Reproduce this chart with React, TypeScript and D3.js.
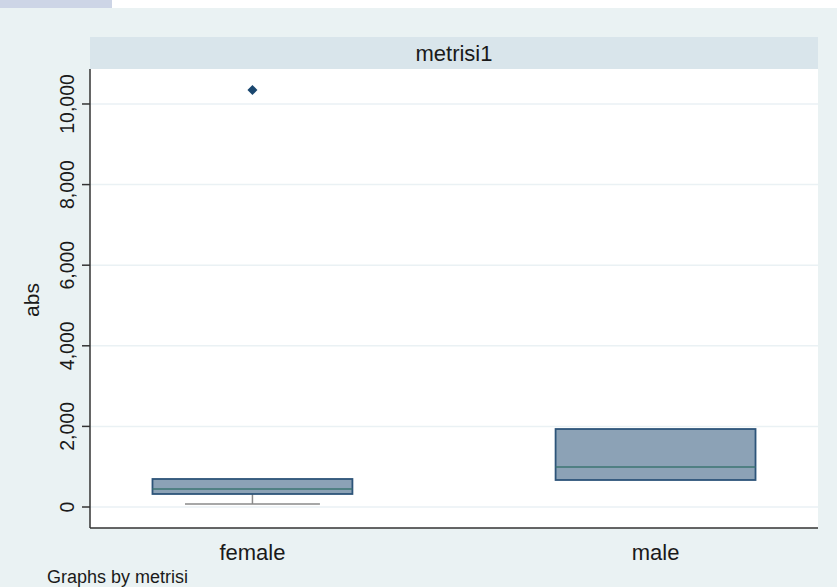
import React from "react";
import * as d3 from "d3";

// Box plot of abs by sex (metrisi1 panel)
const categories = ["female", "male"];
const q1Values = [323, 670];
const medianValues = [447, 993];
const q3Values = [695, 1935];
const lowerWhisker = [74, 670];
const upperWhisker = [695, 1935];
const outliers = [{ cat: "female", value: 10347 }];
const yTicks = [0, 2000, 4000, 6000, 8000, 10000];

const W = 837;
const H = 587;
const plot = { left: 90, right: 818, top: 69, bottom: 528 };
const font = "'Liberation Sans', Arial, sans-serif";

const App = () => {
    // Scales
    const x = d3.scaleBand()
        .domain(categories)
        .range([plot.left, plot.right])
        .paddingInner(0.504)
        .paddingOuter(0.155);
    const y = d3.scaleLinear()
        .domain([-521, 10868])
        .range([plot.bottom, plot.top]);
    const fmt = d3.format(",");
    const bw = x.bandwidth();
    const capW = bw * 0.675;

    return (
        <div style={{ position: "fixed", left: 0, top: 0 }}>
            <svg width={W} height={H} style={{ display: "block" }}>
                <rect x={0} y={0} width={W} height={H} fill="#ffffff" />
                <rect x={0} y={8} width={W} height={H - 8} fill="#eaf2f3" />
                <rect x={0} y={0} width={112} height={8} fill="#cdd5e6" />

                {/* strip header */}
                <rect x={plot.left} y={37} width={plot.right - plot.left} height={plot.top - 37} fill="#d9e5eb" />
                <text x={(plot.left + plot.right) / 2} y={61} textAnchor="middle" fontFamily={font} fontSize={22} fill="#1a1a1a">metrisi1</text>

                {/* plot region */}
                <rect x={plot.left} y={plot.top} width={plot.right - plot.left} height={plot.bottom - plot.top} fill="#ffffff" />

                {/* gridlines */}
                {yTicks.map(t => (
                    <line key={"g" + t} x1={plot.left} x2={plot.right} y1={y(t)} y2={y(t)} stroke="#eaf1f4" strokeWidth={1.5} />
                ))}

                {/* boxes */}
                {categories.map((c, i) => {
                    const x0 = x(c) as number;
                    const cx = x0 + bw / 2;
                    return (
                        <g key={c}>
                            {lowerWhisker[i] < q1Values[i] && (
                                <g>
                                    <line x1={cx} x2={cx} y1={y(q1Values[i])} y2={y(lowerWhisker[i])} stroke="#8a8a8a" strokeWidth={1.5} />
                                    <line x1={cx - capW / 2} x2={cx + capW / 2} y1={y(lowerWhisker[i])} y2={y(lowerWhisker[i])} stroke="#8a8a8a" strokeWidth={1.5} />
                                </g>
                            )}
                            {upperWhisker[i] > q3Values[i] && (
                                <g>
                                    <line x1={cx} x2={cx} y1={y(q3Values[i])} y2={y(upperWhisker[i])} stroke="#8a8a8a" strokeWidth={1.5} />
                                    <line x1={cx - capW / 2} x2={cx + capW / 2} y1={y(upperWhisker[i])} y2={y(upperWhisker[i])} stroke="#8a8a8a" strokeWidth={1.5} />
                                </g>
                            )}
                            <rect x={x0} y={y(q3Values[i])} width={bw} height={y(q1Values[i]) - y(q3Values[i])}
                                fill="#8ca2b6" stroke="#2d5479" strokeWidth={1.8} />
                            <line x1={x0} x2={x0 + bw} y1={y(medianValues[i])} y2={y(medianValues[i])} stroke="#3c7472" strokeWidth={1.5} />
                        </g>
                    );
                })}

                {/* outliers */}
                {outliers.map((o, i) => {
                    const cx = (x(o.cat) as number) + bw / 2;
                    const cy = y(o.value);
                    const s = 5;
                    return <path key={i} d={`M${cx},${cy - s}L${cx + s},${cy}L${cx},${cy + s}L${cx - s},${cy}Z`} fill="#1a476f" />;
                })}

                {/* axes */}
                <line x1={plot.left} x2={plot.left} y1={plot.top} y2={plot.bottom} stroke="#333" strokeWidth={1.5} />
                <line x1={plot.left} x2={plot.right} y1={plot.bottom} y2={plot.bottom} stroke="#333" strokeWidth={1.5} />
                {yTicks.map(t => (
                    <g key={"t" + t}>
                        <line x1={plot.left - 8} x2={plot.left} y1={y(t)} y2={y(t)} stroke="#333" strokeWidth={1.5} />
                        <text transform={`translate(74,${y(t)}) rotate(-90)`} textAnchor="middle"
                            fontFamily={font} fontSize={19.5} fill="#1a1a1a">{fmt(t)}</text>
                    </g>
                ))}
                <text transform={`translate(39,300) rotate(-90)`} textAnchor="middle"
                    fontFamily={font} fontSize={21} fill="#1a1a1a">abs</text>

                {categories.map(c => (
                    <text key={"l" + c} x={(x(c) as number) + bw / 2} y={560} textAnchor="middle"
                        fontFamily={font} fontSize={22} fill="#1a1a1a">{c}</text>
                ))}
                <text x={47} y={583} fontFamily={font} fontSize={18} fill="#1a1a1a">Graphs by metrisi</text>
            </svg>
        </div>
    );
};

export default App;
